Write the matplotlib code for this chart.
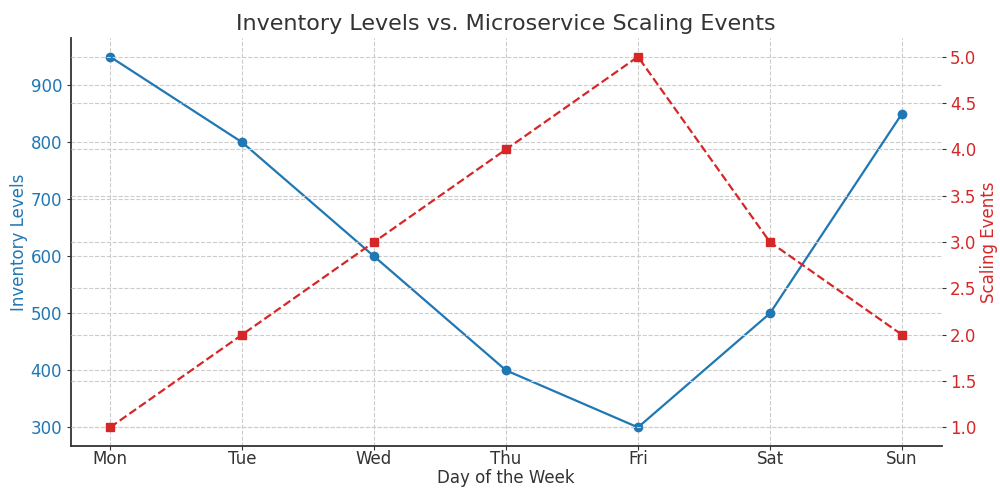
import matplotlib
matplotlib.use("Agg")
import matplotlib.pyplot as plt

days = ["Mon", "Tue", "Wed", "Thu", "Fri", "Sat", "Sun"]
inventory = [950, 800, 600, 400, 300, 500, 850]
scaling = [1, 2, 3, 4, 5, 3, 2]

blue = "#1f77b4"
red = "#d62728"
dark = "#333333"

fig, ax1 = plt.subplots(figsize=(10, 4.9), dpi=100)
fig.subplots_adjust(left=0.0705, right=0.9415, top=0.922, bottom=0.09)

ax1.plot(days, inventory, color=blue, marker="o", markersize=6, linewidth=1.6)
ax1.set_xlabel("Day of the Week", fontsize=12, color=dark, labelpad=1)
ax1.set_ylabel("Inventory Levels", fontsize=12, color=blue, labelpad=2)
ax1.tick_params(axis="y", labelcolor=blue, labelsize=12, color=dark, length=3, pad=3)
ax1.tick_params(axis="x", labelsize=12, labelcolor=dark, color=dark, length=3, pad=0)
ax1.grid(True, linestyle="--", color="#cccccc", linewidth=0.8)
for s in ["top", "right"]:
    ax1.spines[s].set_visible(False)
for s in ["left", "bottom"]:
    ax1.spines[s].set_color(dark)
    ax1.spines[s].set_linewidth(1.3)

ax2 = ax1.twinx()
ax2.plot(days, scaling, color=red, marker="s", markersize=6, linestyle="--", linewidth=1.6)
ax2.set_ylabel("Scaling Events", fontsize=12, color=red, labelpad=3)
ax2.tick_params(axis="y", labelcolor=red, labelsize=12, color=dark, length=3, pad=3)
ax2.grid(True, linestyle="--", color="#cccccc", linewidth=0.8)
for s in ["top", "right", "left", "bottom"]:
    ax2.spines[s].set_visible(False)

ax1.set_title("Inventory Levels vs. Microservice Scaling Events", fontsize=16, color=dark)

fig.savefig("out.png", dpi=100)
